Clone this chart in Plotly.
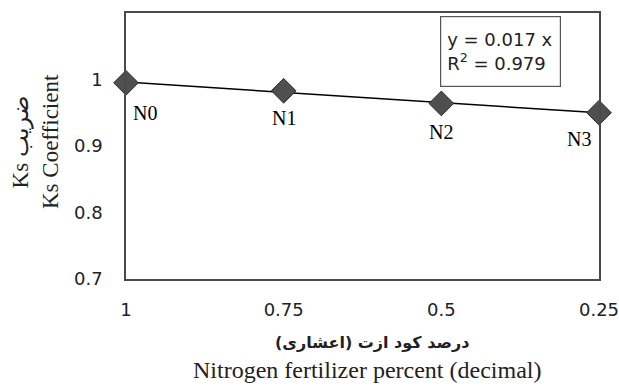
import numpy as np
import plotly.graph_objects as go

x_vals = [1, 0.75, 0.5, 0.25]
x_ticklabels = ["1", "0.75", "0.5", "0.25"]
ks_values = [0.995, 0.983, 0.964, 0.950]
point_labels = ["N0", "N1", "N2", "N3"]
y_ticks = [0.7, 0.8, 0.9, 1.0]
y_ticklabels = ["0.7", "0.8", "0.9", "1"]
eq_text = "y = 0.017 x<br>R<sup>2</sup> = 0.979"

# label offsets (pixels) relative to each marker
label_dx = [19, 0, 0, -20]
label_dy = [-30, -27, -29, -26]

W, H = 619, 387
L, R, T, B = 126, 20, 13, 108
PW, PH = W - L - R, H - T - B


def px(xp):
    return (xp - L) / PW


def py(yp):
    return (H - B - yp) / PH


coef = np.polyfit(x_vals, ks_values, 1)
trend_x = [x_vals[0], x_vals[-1]]
trend_y = list(np.polyval(coef, trend_x))

fig = go.Figure()
fig.add_trace(go.Scatter(
    x=trend_x, y=trend_y, mode="lines",
    line=dict(color="black", width=1.5), showlegend=False, hoverinfo="skip"))
fig.add_trace(go.Scatter(
    x=x_vals, y=ks_values, mode="markers",
    marker=dict(symbol="diamond", size=19, color="#4f4f4f",
                line=dict(color="#2a2a2a", width=1)),
    showlegend=False, cliponaxis=False))

for xv, yv, lab, dx, dy in zip(x_vals, ks_values, point_labels, label_dx, label_dy):
    fig.add_annotation(x=xv, y=yv, text=lab, showarrow=False,
                       xshift=dx, yshift=dy,
                       font=dict(family="Liberation Serif", size=20, color="black"))

axis_line = dict(showline=True, linecolor="#4a4a4a", linewidth=1.5, mirror=True,
                 showgrid=False, zeroline=False, ticks="", automargin=False)

fig.update_xaxes(range=[1, 0.25], tickvals=x_vals, ticktext=x_ticklabels,
                 tickfont=dict(family="DejaVu Sans", size=18, color="#222"),
                 ticklabelstandoff=14, ticklabeloverflow="allow", **axis_line)
fig.update_yaxes(range=[0.7, 1.1], tickvals=y_ticks, ticktext=y_ticklabels,
                 tickfont=dict(family="DejaVu Sans", size=18, color="#222"),
                 ticklabelstandoff=18, **axis_line)

fig.add_annotation(x=px(500), y=py(51), xref="paper", yref="paper", text=eq_text,
                   showarrow=False, align="left", width=107, height=57,
                   xanchor="center", yanchor="middle",
                   font=dict(family="DejaVu Sans", size=18, color="#222"),
                   bordercolor="#555555", borderwidth=1.2, borderpad=6,
                   bgcolor="white")

fig.add_annotation(x=px(35), y=py(142), xref="paper", yref="paper",
                   text="Ks ضریب<br>Ks Coefficient", textangle=-90, showarrow=False,
                   font=dict(family="Liberation Serif", size=23, color="#222"),
                   align="center", xanchor="center", yanchor="middle")
fig.add_annotation(x=px(372), y=py(342), xref="paper", yref="paper",
                   text="<b>درصد کود ازت (اعشاری)</b>", showarrow=False,
                   font=dict(family="DejaVu Sans", size=16, color="#222"),
                   xanchor="center", yanchor="middle")
fig.add_annotation(x=px(367), y=py(370), xref="paper", yref="paper",
                   text="Nitrogen fertilizer percent (decimal)", showarrow=False,
                   font=dict(family="Liberation Serif", size=24, color="#222"),
                   xanchor="center", yanchor="middle")

fig.update_layout(
    width=W, height=H,
    margin=dict(l=L, r=R, t=T, b=B),
    paper_bgcolor="white", plot_bgcolor="white",
)

fig.write_html("out.html", config={"displayModeBar": False},
               post_script="document.body.style.margin='0';document.body.style.overflow='hidden';")
